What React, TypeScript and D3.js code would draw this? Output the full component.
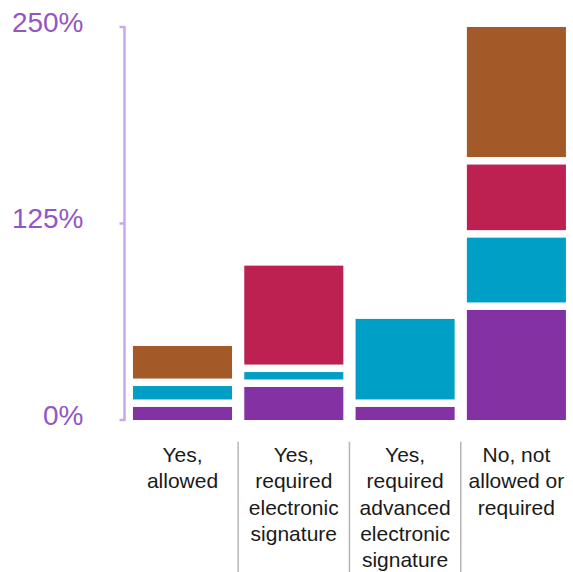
import React from "react";
import * as d3 from "d3";

const categories = [
  ["Yes,", "allowed"],
  ["Yes,", "required", "electronic", "signature"],
  ["Yes,", "required", "advanced", "electronic", "signature"],
  ["No, not", "allowed or", "required"],
];
const categoryKeys = ["allowed", "reqES", "reqAES", "no"];
const seriesNames = ["Series A", "Series B", "Series C", "Series D"];
const seriesA = [8.3, 21, 8.3, 70];
const seriesB = [13.3, 9.5, 56, 46];
const seriesC = [0, 67.7, 0, 46.5];
const seriesD = [25.5, 0, 0, 87.5];
const seriesColors = ["#8431a4", "#00a0c6", "#bc2152", "#a35a28"];
const yTicks = [0, 125, 250];

const W = 573;
const H = 572;
const GAP = 7.5;

export default function App() {
  const rows = categoryKeys.map((k, i) => ({
    key: k,
    s0: seriesA[i],
    s1: seriesB[i],
    s2: seriesC[i],
    s3: seriesD[i],
  }));
  const stack = d3.stack<any>().keys(["s0", "s1", "s2", "s3"]);
  const layers = stack(rows);

  const x = d3
    .scaleBand<string>()
    .domain(categoryKeys)
    .range([127.4, 571.5])
    .paddingInner(0.11)
    .paddingOuter(0.05);
  const y = d3.scaleLinear().domain([0, 250]).range([420, 27]);
  const axisX = 124.5;

  return (
    <svg
      width={W}
      height={H}
      style={{ position: "absolute", left: 0, top: 0, overflow: "hidden" }}
      fontFamily="'Liberation Sans', Arial, sans-serif"
    >
      {/* bars */}
      {layers.map((layer, li) => (
        <g key={seriesNames[li]} fill={seriesColors[li]}>
          {layer.map((d, i) => {
            const v = d[1] - d[0];
            if (v <= 0) return null;
            const top = y(d[1]);
            const bottom = d[0] > 0 ? y(d[0]) - GAP : y(d[0]);
            return (
              <rect
                key={i}
                x={x(categoryKeys[i])}
                y={top}
                width={x.bandwidth()}
                height={Math.max(0, bottom - top)}
              />
            );
          })}
        </g>
      ))}

      {/* y axis */}
      <g stroke="#c9a8ea" strokeWidth={2.5} fill="none">
        <line x1={axisX} x2={axisX} y1={y(250) - 1} y2={y(0) + 1} />
        {yTicks.map((t) => (
          <line key={t} x1={axisX - 5} x2={axisX} y1={y(t)} y2={y(t)} />
        ))}
      </g>
      {yTicks.map((t) => (
        <text
          key={t}
          x={83.5}
          y={y(t) + 4.5}
          textAnchor="end"
          fontSize={28}
          fill="#9356c6"
        >
          {t}%
        </text>
      ))}

      {/* separators */}
      {categoryKeys.slice(1).map((k, i) => {
        const xs = (x(categoryKeys[i])! + x.bandwidth() + x(k)!) / 2;
        return (
          <line
            key={k}
            x1={xs}
            x2={xs}
            y1={441.7}
            y2={H}
            stroke="#b5b5b5"
            strokeWidth={1.5}
          />
        );
      })}

      {/* category labels */}
      {categories.map((lines, i) => {
        const cx = x(categoryKeys[i])! + x.bandwidth() / 2;
        return (
          <text key={i} textAnchor="middle" fontSize={21} fill="#1a1a1a">
            {lines.map((ln, j) => (
              <tspan key={j} x={cx} y={461.7 + j * 26.4}>
                {ln}
              </tspan>
            ))}
          </text>
        );
      })}
    </svg>
  );
}
